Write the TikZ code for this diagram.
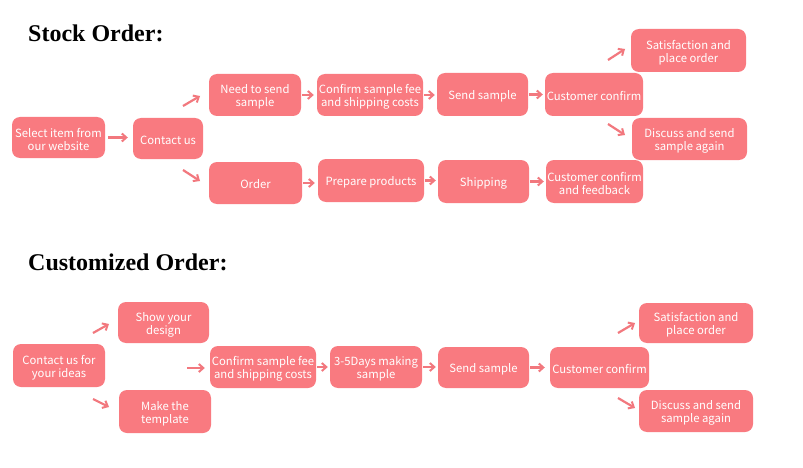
\documentclass[tikz,border=0pt]{standalone}
\usepackage{fontspec}
\setmainfont{Liberation Serif}
\newfontfamily\boxfont{Noto Sans CJK SC}
\usetikzlibrary{arrows.meta}
\definecolor{boxpink}{RGB}{249,122,128}
\definecolor{arrowpink}{RGB}{242,120,126}
% box node + text node (text nudged down a little)
\newcommand{\stepnode}[6]{%
  \node[stepbox, minimum width=#3pt, minimum height=#4pt] (#1) at (#2) {};
  \node[steptext] (#1t) at ([yshift=#6pt]#1.center) {#5};
}
\begin{document}
\begin{tikzpicture}[x=1pt,y=-1pt,
  stepbox/.style={fill=boxpink, rounded corners=8pt, inner sep=0pt},
  steptext/.style={inner sep=0pt, align=center, text=white,
    font=\boxfont\fontsize{11.3}{13}\selectfont},
  flow/.style={draw=arrowpink, line width=2.2pt,
    -{Straight Barb[length=4.5pt,width=8pt,line width=2pt]}},
  title/.style={anchor=base west, inner sep=0pt, font=\bfseries\fontsize{24}{26}\selectfont}
]
\useasboundingbox (0,0) rectangle (803,468);
\fill[white] (0,0) rectangle (803,468);

% ---------- Stock order ----------
\node[title] (t1) at (28,42) {Stock Order:};
\stepnode{s1}{58.5,137.5}{93}{41}{Select item from\\our website}{-2}
\stepnode{s2}{168,138.5}{70}{41}{Contact us}{-1.5}
\stepnode{s3}{255,95}{92}{42}{Need to send\\sample}{-2}
\stepnode{s4}{370,95}{106}{42}{Confirm sample fee\\and shipping costs}{-2}
\stepnode{s5}{482.5,94.5}{91}{43}{Send sample}{-1.5}
\stepnode{s6}{594,94.5}{98}{43}{Customer confirm}{-1.5}
\stepnode{s7}{688.5,50.5}{115}{43}{Satisfaction and\\place order}{-2}
\stepnode{s8}{689.5,139}{115}{42}{Discuss and send\\sample again}{-2}
\stepnode{s9}{255.5,183}{93}{42}{Order}{-1.5}
\stepnode{s10}{371,180.5}{106}{43}{Prepare products}{-1.5}
\stepnode{s11}{483.5,181.5}{91}{43}{Shipping}{-1.5}
\stepnode{s12}{594.5,181.5}{97}{43}{Customer confirm\\and feedback}{-2}

\coordinate (a1s) at (183,106); \coordinate (a1e) at (200,96);
\coordinate (a2s) at (183,170); \coordinate (a2e) at (200,181);
\coordinate (a3s) at (608,60);  \coordinate (a3e) at (625,49);
\coordinate (a4s) at (608,124); \coordinate (a4e) at (625,135);

\draw[flow, shorten <=3pt, shorten >=5pt] (s1.east) -- (s2.west |- s1.east);
\draw[flow] (a1s) -- (a1e);
\draw[flow] (a2s) -- (a2e);
\draw[flow, shorten <=1pt, shorten >=3pt] (s3.east) -- (s4.west);
\draw[flow, shorten <=1pt, shorten >=2pt] (s4.east) -- (s5.west |- s4.east);
\draw[flow, shorten <=1pt, shorten >=2pt] (s5.east) -- (s6.west);
\draw[flow] (a3s) -- (a3e);
\draw[flow] (a4s) -- (a4e);
\draw[flow, shorten <=1pt, shorten >=3pt] (s9.east) -- (s10.west |- s9.east);
\draw[flow, shorten <=1pt, shorten >=2pt] (s10.east) -- (s11.west |- s10.east);
\draw[flow, shorten <=1pt, shorten >=2pt] (s11.east) -- (s12.west);

% ---------- Customized order ----------
\node[title] (t2) at (28,270) {Customized Order:};
\stepnode{c1}{59,365.5}{92}{43}{Contact us for\\your ideas}{-2}
\stepnode{c2}{163.5,322.5}{91}{41}{Show your\\design}{-2}
\stepnode{c3}{165,411.5}{92}{43}{Make the\\template}{-2}
\stepnode{c4}{263,367}{106}{42}{Confirm sample fee\\and shipping costs}{-2}
\stepnode{c5}{376,367}{92}{42}{3-5Days making\\sample}{-2}
\stepnode{c6}{483.5,367.5}{91}{41}{Send sample}{-1.5}
\stepnode{c7}{599.5,367.5}{99}{41}{Customer confirm}{-1.5}
\stepnode{c8}{696,323}{114}{40}{Satisfaction and\\place order}{-2}
\stepnode{c9}{696,411}{114}{42}{Discuss and send\\sample again}{-2}

\coordinate (b1s) at (93,333);  \coordinate (b1e) at (109,324);
\coordinate (b2s) at (93,399);  \coordinate (b2e) at (109,407);
\coordinate (b3s) at (187,368);
\coordinate (b4s) at (618,333); \coordinate (b4e) at (635,323);
\coordinate (b5s) at (618,398); \coordinate (b5e) at (635,408);

\draw[flow] (b1s) -- (b1e);
\draw[flow] (b2s) -- (b2e);
\draw[flow, shorten >=5pt] (b3s) -- (c4.west |- b3s);
\draw[flow, shorten <=1pt, shorten >=2pt] (c4.east) -- (c5.west);
\draw[flow, shorten <=1pt, shorten >=2pt] (c5.east) -- (c6.west |- c5.east);
\draw[flow, shorten <=1pt, shorten >=5pt] (c6.east) -- (c7.west);
\draw[flow] (b4s) -- (b4e);
\draw[flow] (b5s) -- (b5e);
\end{tikzpicture}
\end{document}
